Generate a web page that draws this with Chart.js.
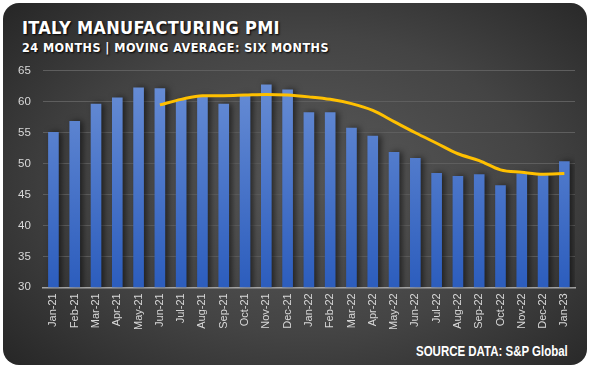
<!DOCTYPE html>
<html>
<head>
<meta charset="utf-8">
<script src="https://cdn.jsdelivr.net/npm/chart.js@4"></script>
<style>
  html, body { margin: 0; padding: 0; background: #fff; }
  #card {
    position: absolute; left: 3px; top: 3px; width: 584px; height: 362px;
    border-radius: 16px; overflow: hidden;
    background: radial-gradient(ellipse 70% 75% at 52% 50%, #5a5a5a 0%, #444 55%, #262626 100%);
  }
  .title {
    position: absolute; left: 19px; top: 14px; color: #fff;
    font-family: "DejaVu Sans Condensed", "DejaVu Sans", sans-serif; font-stretch: condensed;
    font-weight: bold; font-size: 18px; letter-spacing: 0.3px; text-shadow: 1px 1px 2px #000;
  }
  .subtitle {
    position: absolute; left: 19px; top: 37px; color: #fff;
    font-family: "DejaVu Sans Condensed", "DejaVu Sans", sans-serif; font-stretch: condensed;
    font-weight: bold; font-size: 12.5px; letter-spacing: 0.45px; text-shadow: 1px 1px 2px #000;
  }
  .source {
    position: absolute; left: 413px; top: 340px; color: #fff;
    font-family: "Liberation Sans", sans-serif; font-weight: bold; font-size: 14px;
    transform: scaleX(0.82); transform-origin: left center; white-space: nowrap;
  }
  #wrap { position: absolute; left: 0; top: 49px; width: 584px; height: 284px; }
</style>
</head>
<body>
<div id="card">
  <div class="title">ITALY MANUFACTURING PMI</div>
  <div class="subtitle">24 MONTHS | MOVING AVERAGE: SIX MONTHS</div>
  <div id="wrap"><canvas id="pmiChart"></canvas></div>
  <div class="source">SOURCE DATA: S&amp;P Global</div>
</div>
<script>
  // months on the x axis
  var months = ['Jan-21', 'Feb-21', 'Mar-21', 'Apr-21', 'May-21', 'Jun-21', 'Jul-21', 'Aug-21',
    'Sep-21', 'Oct-21', 'Nov-21', 'Dec-21', 'Jan-22', 'Feb-22', 'Mar-22', 'Apr-22', 'May-22',
    'Jun-22', 'Jul-22', 'Aug-22', 'Sep-22', 'Oct-22', 'Nov-22', 'Dec-22', 'Jan-23'];

  // monthly PMI (bars)
  var pmi = [55.1, 56.9, 59.7, 60.7, 62.3, 62.2, 60.3, 60.9, 59.7, 61.1, 62.8, 62.0,
    58.3, 58.3, 55.8, 54.5, 51.9, 50.9, 48.5, 48.0, 48.3, 46.5, 48.4, 48.5, 50.4];

  // six month moving average (line), starts in Jun-21
  var movingAvg = [null, null, null, null, null, 59.5, 60.4, 61.0, 61.0, 61.1, 61.2, 61.1,
    60.8, 60.4, 59.7, 58.6, 56.8, 55.0, 53.3, 51.6, 50.5, 49.0, 48.6, 48.3, 48.4];

  var yTicks = { min: 30, max: 65, step: 5 };

  var ctx = document.getElementById('pmiChart').getContext('2d');

  function barGradient(context) {
    var area = context.chart.chartArea;
    if (!area) return '#4472c4';
    var g = context.chart.ctx.createLinearGradient(0, area.top, 0, area.bottom);
    g.addColorStop(0, '#6a8fd6');
    g.addColorStop(1, '#2c5dbd');
    return g;
  }

  // soft shadow to the right of the bars
  var barShadow = {
    id: 'barShadow',
    beforeDatasetDraw: function (chart, args) {
      if (args.meta.type !== 'bar') return;
      var c = chart.ctx;
      c.save();
      c.shadowColor = 'rgba(0,0,0,0.55)';
      c.shadowBlur = 6;
      c.shadowOffsetX = 3;
      c.shadowOffsetY = 0;
    },
    afterDatasetDraw: function (chart, args) {
      if (args.meta.type !== 'bar') return;
      chart.ctx.restore();
    }
  };

  new Chart(ctx, {
    data: {
      labels: months,
      datasets: [
        {
          type: 'line',
          data: movingAvg,
          borderColor: '#ffc000',
          borderWidth: 3,
          pointRadius: 0,
          cubicInterpolationMode: 'monotone',
          order: 0
        },
        {
          type: 'bar',
          data: pmi,
          backgroundColor: barGradient,
          barPercentage: 0.5,
          categoryPercentage: 1,
          order: 1
        }
      ]
    },
    plugins: [barShadow],
    options: {
      responsive: true,
      maintainAspectRatio: false,
      animation: false,
      layout: { padding: { left: 3, right: 12, top: 2, bottom: 0 } },
      plugins: {
        legend: { display: false },
        tooltip: { enabled: false }
      },
      scales: {
        x: {
          grid: { display: false, drawTicks: false },
          border: { color: '#a6a6a6', width: 1.5 },
          ticks: {
            color: '#d9d9d9',
            padding: 6,
            font: { family: 'Liberation Sans', size: 11 },
            maxRotation: 90, minRotation: 90, autoSkip: false
          }
        },
        y: {
          min: yTicks.min,
          max: yTicks.max,
          grid: { color: '#5e5e5e', lineWidth: 1, drawTicks: false },
          border: { display: false },
          ticks: {
            stepSize: yTicks.step,
            color: '#d9d9d9',
            padding: 12,
            font: { family: 'Liberation Sans', size: 11.5 }
          }
        }
      }
    }
  });
</script>
</body>
</html>
